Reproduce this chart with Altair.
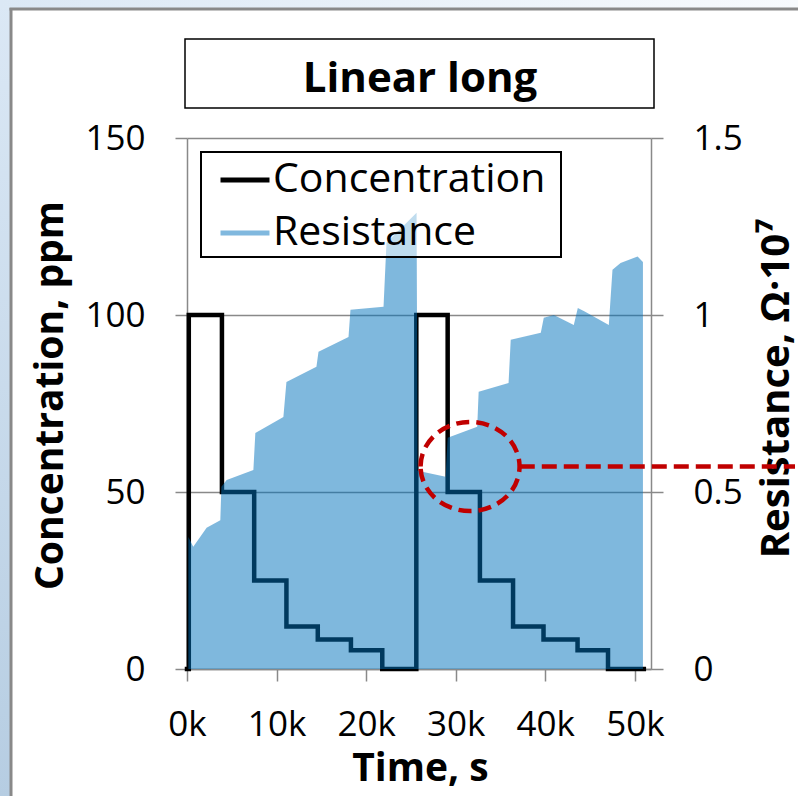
import altair as alt
import pandas as pd

FONT = "Open Sans"
GRAY = "#898989"

# ---- data ----
# Concentration, ppm (step series, time in s)
conc_t = [0, 200, 3900, 7500, 11100, 14600, 18300, 21800,
          25600, 29100, 32700, 36400, 39800, 43600, 47000, 51000]
conc_v = [0, 100, 50, 25, 12, 8.3, 5.3, 0,
          100, 50, 25, 12, 8.3, 5.3, 0, 0]

# Resistance, Ohm*1e7 (outline of the filled area, time in s)
res_t = [150, 700, 2190, 3720, 3840, 4430, 7410, 7630, 10760, 11100,
         14450, 14680, 18030, 18250, 21940, 22270, 25630, 25740, 28870, 29100,
         32400, 32560, 35900, 36140, 39500, 39830, 40950, 43180, 43630, 44400,
         47090, 47500, 48400, 50300, 50900]
res_v = [0.373, 0.345, 0.399, 0.42, 0.515, 0.534, 0.562, 0.667, 0.712, 0.811,
         0.854, 0.896, 0.938, 1.015, 1.023, 1.204, 1.289, 0.56, 0.543, 0.653,
         0.684, 0.783, 0.808, 0.93, 0.95, 0.992, 1.0, 0.972, 1.02, 1.01,
         0.972, 1.128, 1.147, 1.165, 1.15]

series_names = ["Concentration", "Resistance"]
series_colors = ["#000000", "#80B8DE"]

x_ticks = [0, 10000, 20000, 30000, 40000, 50000]
left_ticks = [0, 50, 100, 150]
right_ticks = [0, 0.5, 1, 1.5]

# annotation (highlight circle + dashed leader)
ann_t = [31600]
ann_r = [0.572]
ann_t_end = [37150]

title_text = ["Linear long"]

df_c = pd.DataFrame({"t": conc_t, "c": conc_v, "series": "Concentration"})
df_r = pd.DataFrame({"t": res_t, "r": res_v})
df_a = pd.DataFrame({"t": ann_t, "r": ann_r, "t2": ann_t_end})
df_title = pd.DataFrame({"label": title_text})
dummy = pd.DataFrame({"a": [0]})

x_scale = alt.Scale(domain=[0, 51800], nice=False, zero=False)

x_enc = alt.X(
    "t:Q", scale=x_scale,
    axis=alt.Axis(
        values=x_ticks, labelExpr="datum.value/1000 + 'k'",
        title="Time, s", titleFont=FONT, titleFontSize=39, titleFontWeight="bold",
        titleColor="black", titleX=233, titleY=111, titleBaseline="alphabetic",
        titleAlign="center",
        labelFont=FONT, labelFontSize=35, labelColor="black", labelPadding=54,
        labelBaseline="alphabetic", labelFlush=False, labelOverlap=False,
        tickSize=12, tickColor=GRAY, tickWidth=1.5,
        domainColor=GRAY, domainWidth=1.5, grid=False,
    ),
)

# background strips and frame
left_strip = alt.Chart(dummy).mark_rect(
    fill=alt.Gradient(gradient="linear", stops=[
        alt.GradientStop(color="#dbe8f5", offset=0),
        alt.GradientStop(color="#b6cde2", offset=1)], x1=0, y1=0, x2=0, y2=1)
).encode(x=alt.value(-187), x2=alt.value(-177), y=alt.value(-138), y2=alt.value(660))

top_strip = alt.Chart(dummy).mark_rect(
    fill=alt.Gradient(gradient="linear", stops=[
        alt.GradientStop(color="#dbe8f5", offset=0),
        alt.GradientStop(color="#f7fafd", offset=1)], x1=0, y1=0, x2=1, y2=0)
).encode(x=alt.value(-187), x2=alt.value(612), y=alt.value(-138), y2=alt.value(-129))

frame_v = alt.Chart(dummy).mark_rule(color=GRAY, strokeWidth=3).encode(
    x=alt.value(-176), y=alt.value(-130), y2=alt.value(660))
frame_h = alt.Chart(dummy).mark_rule(color=GRAY, strokeWidth=3).encode(
    x=alt.value(-177.5), x2=alt.value(612), y=alt.value(-129))

title_box = alt.Chart(dummy).mark_rect(fill="white", stroke="black", strokeWidth=1.5).encode(
    x=alt.value(-2), x2=alt.value(467), y=alt.value(-99), y2=alt.value(-30))
title_mark = alt.Chart(df_title).mark_text(
    font=FONT, fontSize=42, fontWeight="bold", color="black",
    align="center", baseline="alphabetic"
).encode(x=alt.value(233), y=alt.value(-46), text="label:N")

conc = alt.Chart(df_c).mark_line(
    interpolate="step-after", strokeWidth=4.5, strokeJoin="miter", strokeCap="square"
).encode(
    x=x_enc,
    y=alt.Y("c:Q", scale=alt.Scale(domain=[0, 150], nice=False),
            axis=alt.Axis(
                orient="left", values=left_ticks, grid=True, gridColor=GRAY, gridWidth=1.5,
                title="Concentration, ppm", titleFont=FONT, titleFontSize=39,
                titleFontWeight="bold", titleColor="black", titleAngle=270,
                titleX=-137, titleY=257, titleAlign="center", titleBaseline="middle",
                labelFont=FONT, labelFontSize=35, labelColor="black", labelPadding=30,
                tickSize=12, tickColor=GRAY, tickWidth=1.5,
                domainColor=GRAY, domainWidth=1.5)),
    color=alt.Color("series:N",
                    scale=alt.Scale(domain=series_names, range=series_colors),
                    legend=alt.Legend(
                        title=None, orient="none", legendX=31, legendY=15,
                        direction="vertical", labelFont=FONT, labelFontSize=41,
                        labelColor="black", labelLimit=500, labelOffset=1,
                        symbolType="stroke", symbolSize=2400, symbolStrokeWidth=5,
                        symbolOffset=0, rowPadding=6, padding=0)),
)

res = alt.Chart(df_r).mark_area(color="#0072BC", opacity=0.5, interpolate="linear").encode(
    x=alt.X("t:Q", scale=x_scale),
    y=alt.Y("r:Q", scale=alt.Scale(domain=[0, 1.5], nice=False),
            axis=alt.Axis(
                orient="right", values=right_ticks, grid=False, labelExpr="datum.value + ''",
                title="Resistance, Ω·10⁷", titleFont=FONT, titleFontSize=40,
                titleFontWeight="bold", titleColor="black", titleAngle=270,
                titleX=125, titleY=250, titleAlign="center", titleBaseline="middle",
                labelFont=FONT, labelFontSize=35, labelColor="black", labelPadding=30,
                tickSize=12, tickColor=GRAY, tickWidth=1.5,
                domainColor=GRAY, domainWidth=1.5)),
)

ellipse = "M-1,0A1,0.9,0,1,1,1,0A1,0.9,0,1,1,-1,0Z"
circle = alt.Chart(df_a).mark_point(
    shape=ellipse, size=9801, filled=False, color="#C00000", strokeWidth=4.5,
    strokeDash=[13, 7], opacity=1
).encode(
    x=alt.X("t:Q", scale=x_scale),
    y=alt.Y("r:Q", scale=alt.Scale(domain=[0, 1.5], nice=False), axis=None),
)
leader = alt.Chart(df_a).mark_rule(color="#C00000", strokeWidth=4.5, strokeDash=[15, 7]).encode(
    x=alt.X("t2:Q", scale=x_scale),
    x2=alt.value(608),
    y=alt.Y("r:Q", scale=alt.Scale(domain=[0, 1.5], nice=False), axis=None),
)

# legend frame (semi-transparent white box with black border)
legend_box = alt.Chart(dummy).mark_rect(
    fill="white", fillOpacity=0.5, stroke="black", strokeWidth=2
).encode(x=alt.value(14), x2=alt.value(374), y=alt.value(14), y2=alt.value(119))

chart = alt.layer(
    left_strip, top_strip, frame_v, frame_h, title_box, title_mark,
    conc, res, circle, leader, legend_box
).resolve_scale(y="independent").properties(
    width=464, height=531,
    padding={"left": 187, "top": 138, "right": 147, "bottom": 127},
    autosize=alt.AutoSizeParams(type="none"),
    background="white",
).configure_view(stroke=None)

chart.save("out.html", embed_options={"renderer": "svg", "actions": False})
